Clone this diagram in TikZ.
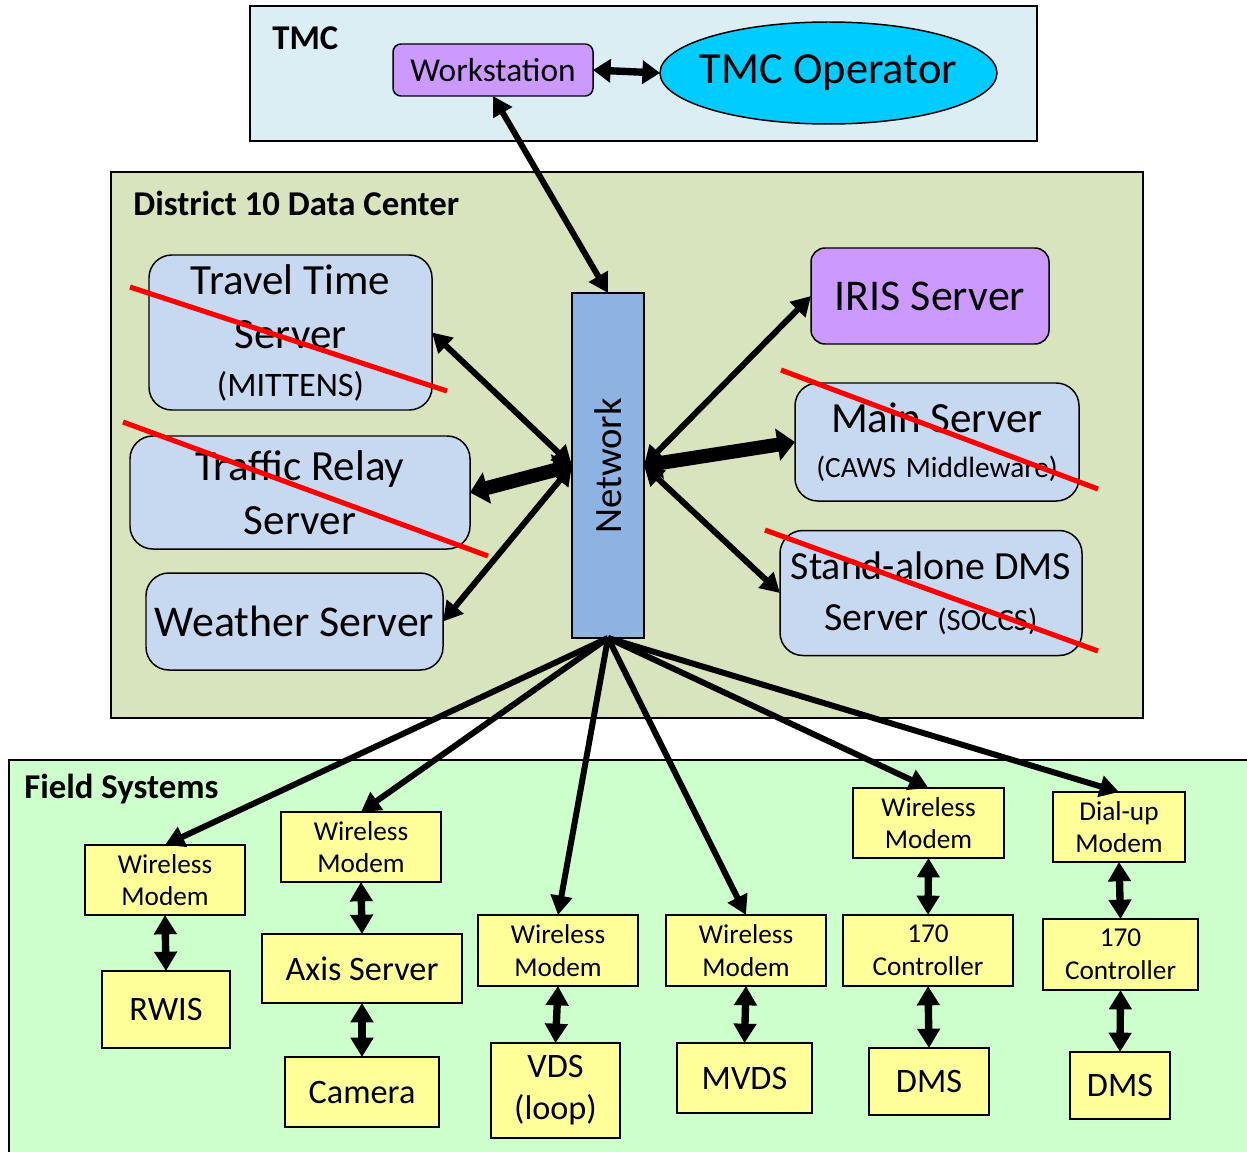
\documentclass[tikz,border=0pt]{standalone}
\usepackage{fontspec}
\setmainfont{Carlito}
\usetikzlibrary{arrows.meta,shapes.geometric}
\definecolor{tmcbg}{HTML}{DBEEF4}
\definecolor{dcbg}{HTML}{D7E4BD}
\definecolor{fsbg}{HTML}{CCFFCC}
\definecolor{srvblue}{HTML}{C6D9F1}
\definecolor{netblue}{HTML}{8DB3E2}
\definecolor{purp}{HTML}{CC99FF}
\definecolor{cyanop}{HTML}{00CCFF}
\definecolor{yel}{HTML}{FFFF99}
\definecolor{strikered}{HTML}{FF0000}
\newcommand{\fsA}{\fontsize{24.5}{31}\selectfont}
\newcommand{\fsB}{\fontsize{19.5}{24}\selectfont}
\newcommand{\fsC}{\fontsize{16.7}{20}\selectfont}
\newcommand{\fsD}{\fontsize{22.7}{29}\selectfont}
\newcommand{\fsE}{\fontsize{17.5}{20}\selectfont}
\begin{document}
\begin{tikzpicture}[x=0.02cm,y=-0.02cm,
  sz/.style 2 args={minimum width=#1*0.02cm,minimum height=#2*0.02cm},
  base/.style={draw=black,line width=0.85pt,inner sep=0pt,outer sep=0pt,align=center},
  container/.style={base},
  hdr/.style={anchor=west,inner sep=0pt,font=\fontsize{19.8}{22}\selectfont\bfseries},
  srv/.style={base,fill=srvblue,rounded corners=13pt},
  ybox/.style={base,fill=yel},
  big/.style={font=\fsA},
  mid/.style={font=\fsB},
  sml/.style={font=\fontsize{15.5}{18.5}\selectfont},
  strike/.style={draw=strikered,line width=2.9pt},
  dbl/.style={line width=3.4pt,{Triangle[length=11pt,width=12pt]}-{Triangle[length=11pt,width=12pt]}},
  one/.style={line width=3.4pt,-{Triangle[length=11pt,width=12pt]}},
  fat/.style={line width=8pt,{Triangle[length=10pt,width=18pt]}-{Triangle[length=10pt,width=18pt]}},
  vdbl/.style={line width=4.2pt,{Triangle[length=11pt,width=12.5pt]}-{Triangle[length=11pt,width=12.5pt]}}
]
\useasboundingbox (0,0) rectangle (1247,1152);
\fill[white] (0,0) rectangle (1247,1152);

% containers
\node[container,fill=tmcbg,sz={787}{135}] (tmc) at (643.5,73.5) {};
\node[hdr] (tmclbl) at (272,38) {TMC};
\node[container,fill=dcbg,sz={1032}{546}] (dc) at (627,445) {};
\node[hdr] (dclbl) at (133,203) {District 10 Data Center};
\node[container,fill=fsbg,sz={1241}{400}] (fs) at (629.5,960) {};
\node[hdr] (fslbl) at (24,789) {Field Systems};

% TMC
\node[base,fill=purp,rounded corners=4.5pt,sz={200}{52},font=\fontsize{19}{22}\selectfont] (ws) at (493,70) {Workstation};
\node[base,ellipse,fill=cyanop,sz={337}{102}] (op) at (828.5,73) {};
\node[font=\fontsize{25.3}{28}\selectfont,inner sep=0pt] (oplbl) at (828.5,73) {TMC Operator};

% Data center
\node[srv,sz={283}{155},big] (tts) at (290.5,332.5) {Travel Time\\Server\\[-4pt]\fsB (MITTENS)};
\node[srv,sz={340}{113},big] (trs) at (300,492.5) {Traffic Relay\\Server};
\node[srv,sz={297}{97},font=\fontsize{25}{30}\selectfont] (wxs) at (294.5,621.5) {Weather Server};
\node[base,fill=netblue,sz={72}{345}] (net) at (608,465.5) {};
\node[rotate=90,font=\fontsize{22}{26}\selectfont] (netlbl) at (608,466) {Network};
\node[base,fill=purp,rounded corners=8pt,sz={238}{96},font=\fontsize{25}{30}\selectfont] (iris) at (930,296) {IRIS Server};
\node[srv,sz={284}{118},big] (main) at (937,442) {Main Server\\[-5.5pt]\fsC (CAWS\,\,Middleware)};
\node[srv,sz={302}{125},font=\fsD] (sa) at (931,593) {Stand-alone DMS\\Server {\fsE (SOCCS)}};

% strike lines
\draw[strike] (130,287) -- (447,391);
\draw[strike] (123,422) -- (488,556);
\draw[strike] (781,370) -- (1098,489);
\draw[strike] (765,530) -- (1098,651);

% Field boxes
\node[ybox,sz={160}{70},sml] (wm1) at (165,880) {Wireless\\Modem};
\node[ybox,sz={128}{77},mid] (rwis) at (166,1009.5) {RWIS};
\node[ybox,sz={160}{70},sml] (wm2) at (361,847) {Wireless\\Modem};
\node[ybox,sz={200}{69},mid] (axis) at (362,968.5) {Axis Server};
\node[ybox,sz={154}{70},mid] (cam) at (362,1092) {Camera};
\node[ybox,sz={160}{71},sml] (wm3) at (558,950.5) {Wireless\\Modem};
\node[ybox,sz={129}{95},mid] (vds) at (555.5,1090.5) {VDS\\(loop)};
\node[ybox,sz={160}{71},sml] (wm4) at (746,950.5) {Wireless\\Modem};
\node[ybox,sz={135}{70},mid] (mvds) at (744.5,1078) {MVDS};
\node[ybox,sz={151}{70},sml] (wm5) at (928.5,823) {Wireless\\Modem};
\node[ybox,sz={170}{71},sml] (ctl1) at (928,950.5) {170\\Controller};
\node[ybox,sz={120}{67},mid] (dms1) at (929,1081.5) {DMS};
\node[ybox,sz={132}{70},sml] (dial) at (1119,827) {Dial-up\\Modem};
\node[ybox,sz={155}{71},sml] (ctl2) at (1120.5,954.5) {170\\Controller};
\node[ybox,sz={100}{67},mid] (dms2) at (1120,1085.5) {DMS};

% connectors TMC / data center
\draw[line width=4.2pt,{Triangle[length=10pt,width=13pt]}-{Triangle[length=10pt,width=13pt]}] (ws.east) -- (op.west);
\draw[dbl] (ws.south) -- (net.north);
\draw[dbl] (tts.east) -- (net.west);
\draw[fat] (trs.east) -- (net.west);
\draw[dbl] (wxs.east) -- (net.west);
\draw[dbl] (iris.west) -- (net.east);
\draw[fat] (main.west) -- (net.east);
\draw[dbl] (sa.west) -- (net.east);

% connectors to field
\draw[one] (net.south) -- (wm1.north);
\draw[one] (net.south) -- (wm2.north);
\draw[one] (net.south) -- (wm3.north);
\draw[one] (net.south) -- (wm4.north);
\draw[one] (net.south) -- (wm5.north);
\draw[one] (net.south) -- (dial.north);

% field vertical links
\draw[vdbl] (wm1.south) -- (rwis.north);
\draw[vdbl] (wm2.south) -- (axis.north);
\draw[vdbl] (axis.south) -- (cam.north);
\draw[vdbl] (wm3.south) -- (vds.north);
\draw[vdbl] (wm4.south) -- (mvds.north);
\draw[vdbl] (wm5.south) -- (ctl1.north);
\draw[vdbl] (ctl1.south) -- (dms1.north);
\draw[vdbl] (dial.south) -- (ctl2.north);
\draw[vdbl] (ctl2.south) -- (dms2.north);
\end{tikzpicture}
\end{document}
